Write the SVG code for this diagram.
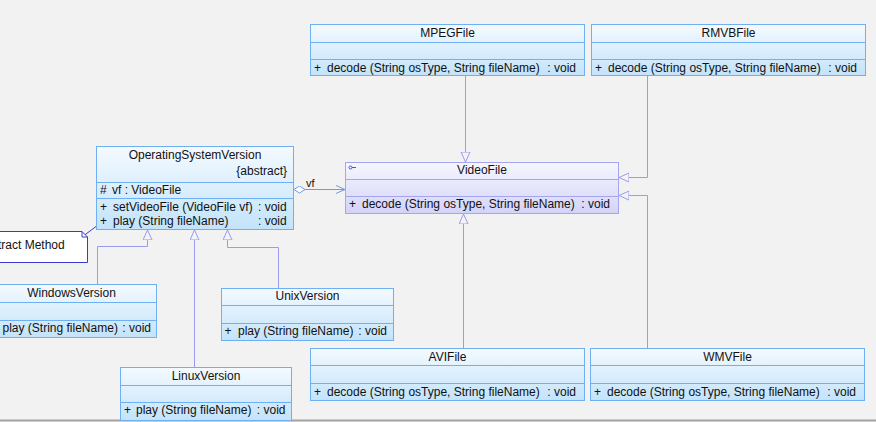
<svg xmlns="http://www.w3.org/2000/svg" width="876" height="422" viewBox="0 0 876 422">
<defs>
<linearGradient id="gB" x1="0" y1="0" x2="0" y2="1"><stop offset="0" stop-color="#f4faff"/><stop offset="1" stop-color="#c3e3fa"/></linearGradient>
<linearGradient id="gV" x1="0" y1="0" x2="0" y2="1"><stop offset="0" stop-color="#f6f6ff"/><stop offset="1" stop-color="#d3d3f8"/></linearGradient>
<marker id="tri" markerWidth="12" markerHeight="12" refX="10" refY="5" orient="auto" markerUnits="userSpaceOnUse"><path d="M0,0.5 L10,5 L0,9.5 Z" fill="#f4f4f8" stroke="#9a9aee" stroke-width="1"/></marker>
<marker id="open" markerWidth="12" markerHeight="12" refX="9" refY="5" orient="auto" markerUnits="userSpaceOnUse"><path d="M0,1 L9,5 L0,9" fill="none" stroke="#6f9ae8" stroke-width="1"/></marker>
<marker id="dia" markerWidth="14" markerHeight="10" refX="0" refY="4" orient="auto" markerUnits="userSpaceOnUse"><path d="M0,4 L5.5,0.5 L11,4 L5.5,7.5 Z" fill="#ffffff" stroke="#6f9ae8" stroke-width="1"/></marker>
</defs>
<style>
text{font-family:"Liberation Sans",Arial,sans-serif;font-size:12px;fill:#111}
.box{fill:url(#gB);stroke:#6fb0f4;stroke-width:1}
.vbox{fill:url(#gV);stroke:#a6a6ee;stroke-width:1}
.sep{stroke:#6fb0f4;stroke-width:1}
.vsep{stroke:#a6a6ee;stroke-width:1}
.c{text-anchor:middle}
.e{text-anchor:end}
.gen{fill:none;stroke:#9a9aee;stroke-width:1}
</style>
<rect x="0" y="0" width="876" height="422" fill="#f2f2f2"/>
<line x1="0" y1="420.5" x2="876" y2="420.5" stroke="#a3a3a3" stroke-width="2"/>

<g id="connectors">
<path class="gen" d="M465.5,75.5 V162" marker-end="url(#tri)"/>
<path class="gen" d="M647.5,75.5 V177.5 H619" marker-end="url(#tri)"/>
<path class="gen" d="M647.5,348.5 V195.5 H619" marker-end="url(#tri)"/>
<path class="gen" d="M463.5,348.5 V214" marker-end="url(#tri)"/>
<path class="gen" d="M97.5,284.5 V246.5 H147.5 V230" marker-end="url(#tri)"/>
<path class="gen" d="M194.5,367.5 V230" marker-end="url(#tri)"/>
<path class="gen" d="M278.5,288.5 V247.5 H227.5 V230" marker-end="url(#tri)"/>
<path d="M294,189.5 H345" fill="none" stroke="#6f9ae8" stroke-width="1.2" marker-start="url(#dia)" marker-end="url(#open)"/>
<text x="306" y="187" style="font-size:11px">vf</text>
<path d="M82,237 L96,226.5" fill="none" stroke="#3a3ad0" stroke-width="1"/>
</g>

<g id="note">
<path d="M-46,231.5 H82 L87.5,237 V262.5 H-46 Z" fill="#ffffff" stroke="#3a3ad0" stroke-width="1"/>
<path d="M82,231.5 V237 H87.5" fill="none" stroke="#3a3ad0" stroke-width="1"/>
<text x="21" y="249" class="c">Abstract Method</text>
</g>

<g id="MPEGFile">
<rect class="box" x="310.5" y="24.5" width="274" height="51"/>
<line class="sep" x1="310.5" y1="42.5" x2="584.5" y2="42.5"/>
<line class="sep" x1="310.5" y1="59.5" x2="584.5" y2="59.5"/>
<text x="447.5" y="37" class="c">MPEGFile</text>
<text x="314" y="72">+</text><text x="327" y="72">decode (String osType, String fileName)</text><text x="576" y="72" class="e">: void</text>
</g>

<g id="RMVBFile">
<rect class="box" x="591.5" y="24.5" width="274" height="51"/>
<line class="sep" x1="591.5" y1="42.5" x2="865.5" y2="42.5"/>
<line class="sep" x1="591.5" y1="59.5" x2="865.5" y2="59.5"/>
<text x="728.5" y="37" class="c">RMVBFile</text>
<text x="595" y="72">+</text><text x="608" y="72">decode (String osType, String fileName)</text><text x="857" y="72" class="e">: void</text>
</g>

<g id="VideoFile">
<rect class="vbox" x="345.5" y="162.5" width="273" height="51"/>
<line class="vsep" x1="345.5" y1="179.5" x2="618.5" y2="179.5"/>
<line class="vsep" x1="345.5" y1="196.5" x2="618.5" y2="196.5"/>
<circle cx="350.5" cy="167.5" r="1.5" fill="none" stroke="#3a5ad8" stroke-width="1"/>
<line x1="352" y1="167.5" x2="356" y2="167.5" stroke="#3a5ad8" stroke-width="1"/>
<text x="482" y="174" class="c">VideoFile</text>
<text x="349" y="208">+</text><text x="362" y="208">decode (String osType, String fileName)</text><text x="610" y="208" class="e">: void</text>
</g>

<g id="OperatingSystemVersion">
<rect class="box" x="96.5" y="146.5" width="197" height="83"/>
<line class="sep" x1="96.5" y1="182.5" x2="293.5" y2="182.5"/>
<line class="sep" x1="96.5" y1="198.5" x2="293.5" y2="198.5"/>
<text x="195" y="159" class="c">OperatingSystemVersion</text>
<text x="287" y="175" class="e">{abstract}</text>
<text x="100" y="194">#</text><text x="112" y="194">vf  : VideoFile</text>
<text x="100" y="211">+</text><text x="113" y="211">setVideoFile (VideoFile vf)</text><text x="258" y="211">: void</text>
<text x="100" y="225">+</text><text x="113" y="225">play (String fileName)</text><text x="258" y="225">: void</text>
</g>

<g id="WindowsVersion">
<rect class="box" x="-14.5" y="284.5" width="171" height="53"/>
<line class="sep" x1="-14.5" y1="302.5" x2="156.5" y2="302.5"/>
<line class="sep" x1="-14.5" y1="320.5" x2="156.5" y2="320.5"/>
<text x="71.5" y="297" class="c">WindowsVersion</text>
<text x="-10" y="332">+</text><text x="2.5" y="332">play (String fileName)</text><text x="151" y="332" class="e">: void</text>
</g>

<g id="UnixVersion">
<rect class="box" x="221.5" y="288.5" width="172" height="52"/>
<line class="sep" x1="221.5" y1="305.5" x2="393.5" y2="305.5"/>
<line class="sep" x1="221.5" y1="323.5" x2="393.5" y2="323.5"/>
<text x="307.5" y="300" class="c">UnixVersion</text>
<text x="224.5" y="335">+</text><text x="238" y="335">play (String fileName)</text><text x="387" y="335" class="e">: void</text>
</g>

<g id="LinuxVersion">
<rect class="box" x="120.5" y="367.5" width="171" height="53"/>
<line class="sep" x1="120.5" y1="385.5" x2="291.5" y2="385.5"/>
<line class="sep" x1="120.5" y1="402.5" x2="291.5" y2="402.5"/>
<text x="206" y="380" class="c">LinuxVersion</text>
<text x="124" y="414">+</text><text x="136" y="414">play (String fileName)</text><text x="285.5" y="414" class="e">: void</text>
</g>

<g id="AVIFile">
<rect class="box" x="310.5" y="348.5" width="274" height="52"/>
<line class="sep" x1="310.5" y1="365.5" x2="584.5" y2="365.5"/>
<line class="sep" x1="310.5" y1="383.5" x2="584.5" y2="383.5"/>
<text x="447.5" y="361" class="c">AVIFile</text>
<text x="314" y="396">+</text><text x="327" y="396">decode (String osType, String fileName)</text><text x="576" y="396" class="e">: void</text>
</g>

<g id="WMVFile">
<rect class="box" x="590.5" y="348.5" width="274" height="52"/>
<line class="sep" x1="590.5" y1="365.5" x2="864.5" y2="365.5"/>
<line class="sep" x1="590.5" y1="383.5" x2="864.5" y2="383.5"/>
<text x="727.5" y="361" class="c">WMVFile</text>
<text x="594" y="396">+</text><text x="607" y="396">decode (String osType, String fileName)</text><text x="856" y="396" class="e">: void</text>
</g>
</svg>
